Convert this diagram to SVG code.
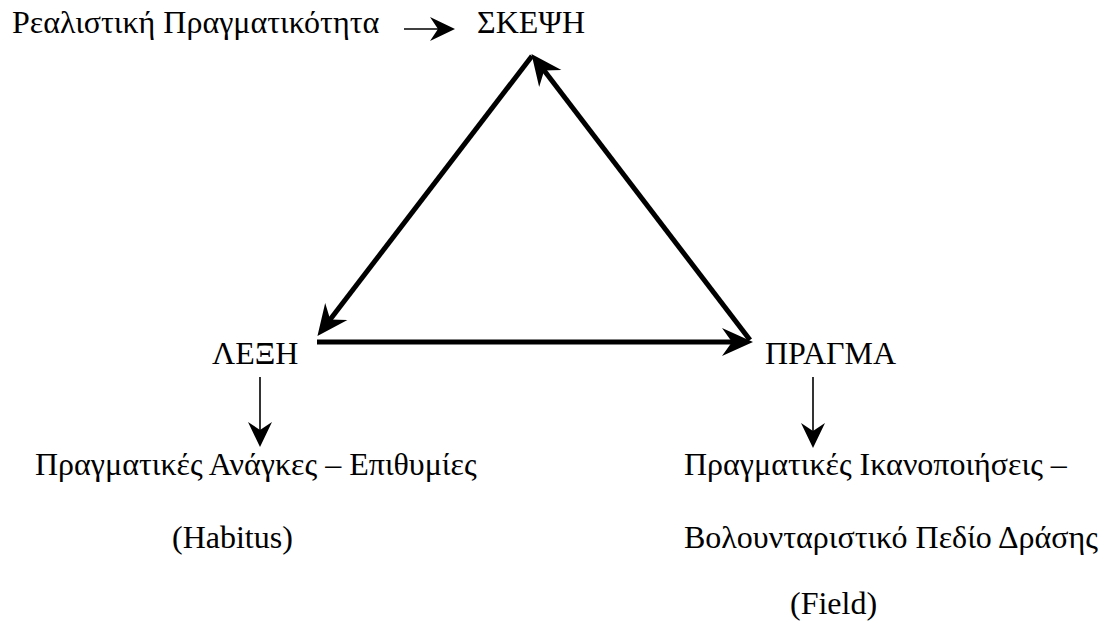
<svg xmlns="http://www.w3.org/2000/svg" width="1107" height="632" viewBox="0 0 1107 632">
<style>
text{font-family:"Liberation Serif","Times New Roman",serif;font-size:32px;fill:#000}
.thick{stroke:#000;stroke-width:5;fill:none}
.thin{stroke:#000;stroke-width:1.6;fill:none}
</style>
<defs>
<marker id="bigHead" markerUnits="userSpaceOnUse" markerWidth="32" markerHeight="30" viewBox="0 0 32 30" refX="12" refY="15" orient="auto">
<path d="M31,15 L0,1 L10,15 L0,29 Z" fill="#000"/>
</marker>
<marker id="smallHead" markerUnits="userSpaceOnUse" markerWidth="26" markerHeight="26" viewBox="0 0 26 26" refX="10" refY="13" orient="auto">
<path d="M25,13 L0,1 L8,13 L0,25 Z" fill="#000"/>
</marker>
</defs>
<rect width="1107" height="632" fill="#fff"/>
<g id="realistic"><text x="12" y="33">Ρεαλιστική Πραγματικότητα</text></g>
<g id="skepsi"><text x="477" y="33">ΣΚΕΨΗ</text></g>
<g id="lexi"><text x="212" y="364">ΛΕΞΗ</text></g>
<g id="pragma"><text x="765" y="364">ΠΡΑΓΜΑ</text></g>
<g id="needs"><text x="35" y="475">Πραγματικές Ανάγκες – Επιθυμίες</text><text x="172" y="548">(Habitus)</text></g>
<g id="satisfactions"><text x="684" y="475">Πραγματικές Ικανοποιήσεις –</text><text x="684" y="548">Βολουνταριστικό Πεδίο Δράσης</text><text x="790" y="614">(Field)</text></g>
<g id="connectors">
<line class="thick" x1="317" y1="342" x2="734" y2="342" marker-end="url(#bigHead)"/>
<path class="thick" d="M750,340 L543,69" marker-end="url(#bigHead)"/>
<path class="thick" d="M532,56 L329,321" marker-end="url(#bigHead)"/>
<line class="thin" x1="404" y1="29" x2="440" y2="29" marker-end="url(#smallHead)"/>
<line class="thin" x1="260" y1="377" x2="260" y2="432" marker-end="url(#smallHead)"/>
<line class="thin" x1="813" y1="377" x2="813" y2="433" marker-end="url(#smallHead)"/>
</g>
</svg>
